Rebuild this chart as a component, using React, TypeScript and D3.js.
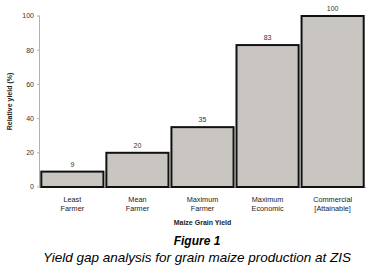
import React from "react";
import * as d3 from "d3";

const categories: string[][] = [
  ["Least", "Farmer"],
  ["Mean", "Farmer"],
  ["Maximum", "Farmer"],
  ["Maximum", "Economic"],
  ["Commercial", "[Attainable]"],
];
const values: number[] = [9, 20, 35, 83, 100];
const yTicks: number[] = [0, 20, 40, 60, 80, 100];
const yLabel = "Relative yield (%)";
const xLabel = "Maize Grain Yield";
const figTitle = "Figure 1";
const figCaption = "Yield gap analysis for grain maize production at ZIS";

export default function App() {
  const W = 374, H = 273;
  const left = 40, right = 365, top = 16, bottom = 187;
  const keys = categories.map((_, i) => String(i));
  const x = d3.scaleBand<string>().domain(keys).range([left, right]).paddingInner(0.045).paddingOuter(0.02);
  const y = d3.scaleLinear().domain([0, 100]).range([bottom, top]);
  const font = "Arial, 'Liberation Sans', sans-serif";
  return (
    <svg width={W} height={H} style={{ position: "absolute", left: 0, top: 0, background: "#fff" }} fontFamily={font}>
      <line x1={left - 0.5} x2={left - 0.5} y1={top} y2={bottom} stroke="#b5b2ae" strokeWidth={1} />
      <line x1={left - 0.5} x2={right + 1} y1={bottom + 0.5} y2={bottom + 0.5} stroke="#b5b2ae" strokeWidth={1} />
      {yTicks.map((t) => (
        <g key={t}>
          <line x1={left - 3} x2={left} y1={y(t)} y2={y(t)} stroke="#b5b2ae" />
          <text x={left - 6} y={y(t)} dy="0.35em" textAnchor="end" fontSize={7} fill="#333">{t}</text>
        </g>
      ))}
      {keys.map((k, i) => (
        <g key={k}>
          <rect x={x(k)!} y={y(values[i])} width={x.bandwidth()} height={bottom - y(values[i])}
            fill="#c9c6c2" stroke="#111" strokeWidth={2} />
          <text x={x(k)! + x.bandwidth() / 2} y={y(values[i]) - 5} textAnchor="middle" fontSize={7} fill="#333">{values[i]}</text>
          {categories[i].map((line, j) => (
            <text key={j} x={x(k)! + x.bandwidth() / 2} y={202 + j * 9} textAnchor="middle" fontSize={7.3} fill="#222">{line}</text>
          ))}
        </g>
      ))}
      <text x={(left + right) / 2} y={225} textAnchor="middle" fontSize={7} fontWeight="bold" fill="#222">{xLabel}</text>
      <text transform={`translate(12,${(top + bottom) / 2}) rotate(-90)`} textAnchor="middle" fontSize={7} fontWeight="bold" fill="#222">{yLabel}</text>
      <text x={197} y={245} textAnchor="middle" fontSize={12} fontWeight="bold" fontStyle="italic" fill="#000">{figTitle}</text>
      <text x={197} y={261.5} textAnchor="middle" fontSize={13.5} fontStyle="italic" fill="#000">{figCaption}</text>
    </svg>
  );
}
